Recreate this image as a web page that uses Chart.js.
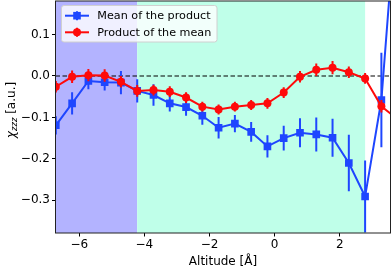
<!DOCTYPE html>
<html>
<head>
<meta charset="utf-8">
<script src="https://cdn.jsdelivr.net/npm/chart.js@4"></script>
<style>
html,body{margin:0;padding:0;background:#fff;}
canvas{display:block;}
</style>
</head>
<body>
<canvas id="c" width="392" height="269"></canvas>
<script>
// ---- data ----
const altitude = [-6.72, -6.22, -5.72, -5.22, -4.72, -4.22, -3.72, -3.22, -2.72, -2.22, -1.72,
                  -1.22, -0.72, -0.22, 0.28, 0.78, 1.28, 1.78, 2.28, 2.78, 3.28, 3.78];
const meanOfProduct = [-0.119, -0.066, -0.012, -0.015, -0.016, -0.036, -0.046, -0.066, -0.075, -0.096, -0.125,
                       -0.115, -0.135, -0.170, -0.150, -0.137, -0.141, -0.149, -0.210, -0.291, -0.058, 0.45];
const meanOfProductErr = [0.022, 0.027, 0.020, 0.020, 0.028, 0.028, 0.026, 0.020, 0.021, 0.022, 0.026,
                          0.021, 0.024, 0.027, 0.030, 0.035, 0.041, 0.046, 0.068, 0.087, 0.114, 0.15];
const productOfMean = [-0.026, -0.002, 0.002, 0.001, -0.014, -0.036, -0.034, -0.038, -0.052, -0.074, -0.081,
                       -0.074, -0.070, -0.066, -0.040, -0.002, 0.015, 0.020, 0.009, -0.006, -0.073, -0.105];
const productOfMeanErr = [0.014, 0.015, 0.015, 0.015, 0.014, 0.014, 0.013, 0.013, 0.013, 0.012, 0.012,
                          0.012, 0.012, 0.013, 0.013, 0.014, 0.015, 0.016, 0.014, 0.013, 0.015, 0.015];
const seriesNames = ['Mean of the product', 'Product of the mean'];
const xTicks = [-6, -4, -2, 0, 2];
const yTicks = [-0.3, -0.2, -0.1, 0.0, 0.1];
const xRange = [-6.73, 3.56];
const yRange = [-0.379, 0.181];
const blueRegion = [-6.73, -4.22];
const cyanRegion = [-4.22, 2.78];
const xLabel = 'Altitude [Å]';

const BLUE = '#1e46ff';
const RED = '#ff0a0a';
const FONT = '"DejaVu Sans", sans-serif';
const errs = [meanOfProductErr, productOfMeanErr];
const vals = [meanOfProduct, productOfMean];

function minus(s){ return s.replace('-', '\u2212'); }
function noPad(s){ s.paddingTop = 0; s.paddingBottom = 0; s.paddingLeft = 0; s.paddingRight = 0; }

const deco = {
  id: 'deco',
  beforeDatasetsDraw(chart){
    const {ctx, chartArea: a, scales: {x, y}} = chart;
    ctx.save();
    ctx.beginPath(); ctx.rect(a.left, a.top, a.right - a.left, a.bottom - a.top); ctx.clip();
    ctx.fillStyle = 'rgb(179,179,255)';
    let x0 = x.getPixelForValue(blueRegion[0]), x1 = x.getPixelForValue(blueRegion[1]);
    ctx.fillRect(Math.min(x0, a.left), a.top, x1 - Math.min(x0, a.left), a.bottom - a.top);
    ctx.fillStyle = 'rgb(191,255,233)';
    x0 = x.getPixelForValue(cyanRegion[0]); x1 = x.getPixelForValue(cyanRegion[1]);
    ctx.fillRect(x0, a.top, x1 - x0, a.bottom - a.top);
    // zero line
    const y0 = y.getPixelForValue(0);
    ctx.strokeStyle = '#000'; ctx.lineWidth = 1.2; ctx.setLineDash([4.5, 2.5]);
    ctx.beginPath(); ctx.moveTo(a.left, y0); ctx.lineTo(a.right, y0); ctx.stroke();
    ctx.restore();
  },
  beforeDatasetDraw(chart, args){
    const {ctx, chartArea: a, scales: {x, y}} = chart;
    const i = args.index;
    const ds = chart.data.datasets[i];
    ctx.save();
    ctx.beginPath(); ctx.rect(a.left, a.top, a.right - a.left, a.bottom - a.top); ctx.clip();
    ctx.strokeStyle = ds.borderColor; ctx.lineWidth = 2;
    altitude.forEach((xv, k) => {
      const px = x.getPixelForValue(xv);
      const v = vals[i][k], e = errs[i][k];
      ctx.beginPath();
      ctx.moveTo(px, y.getPixelForValue(v - e));
      ctx.lineTo(px, y.getPixelForValue(v + e));
      ctx.stroke();
    });
    ctx.restore();
  },
  afterDraw(chart){
    const {ctx, chartArea: a} = chart;
    ctx.save();
    // frame
    ctx.strokeStyle = '#222'; ctx.lineWidth = 1;
    ctx.strokeRect(a.left, a.top, a.right - a.left, a.bottom - a.top);
    // legend
    const lx = 61, ly = 5, lw = 155.5, lh = 36.5;
    ctx.beginPath();
    ctx.roundRect(lx + 0.5, ly + 0.5, lw, lh, 2.5);
    ctx.fillStyle = 'rgba(255,255,255,0.8)'; ctx.fill();
    ctx.strokeStyle = '#d0d0d0'; ctx.lineWidth = 1; ctx.stroke();
    const rows = [15.7, 32.3];
    [BLUE, RED].forEach((col, r) => {
      const ry = rows[r];
      ctx.strokeStyle = col; ctx.fillStyle = col; ctx.lineWidth = 2;
      ctx.beginPath(); ctx.moveTo(65, ry); ctx.lineTo(89, ry); ctx.stroke();
      ctx.beginPath(); ctx.moveTo(77, ry - 4.5); ctx.lineTo(77, ry + 4.5); ctx.stroke();
      if (r === 0) { ctx.fillRect(77 - 3.8, ry - 3.8, 7.6, 7.6); }
      else { ctx.beginPath(); ctx.arc(77, ry, 4, 0, Math.PI * 2); ctx.fill(); }
      ctx.fillStyle = '#000'; ctx.font = '11.2px ' + FONT;
      ctx.textBaseline = 'middle'; ctx.textAlign = 'left';
      ctx.fillText(seriesNames[r], 97.3, ry + 0.5);
    });
    // x label
    ctx.fillStyle = '#000'; ctx.font = '12px ' + FONT;
    ctx.textAlign = 'center'; ctx.textBaseline = 'middle';
    ctx.fillText(xLabel, (a.left + a.right) / 2, 261.5);
    // y label with subscript
    const parts = [
      {t: 'χ', f: 'italic 12px ' + FONT, dy: 0},
      {t: 'zzz', f: 'italic 8.5px ' + FONT, dy: 3},
      {t: ' [a.u.]', f: '12px ' + FONT, dy: 0}
    ];
    let total = 0;
    parts.forEach(p => { ctx.font = p.f; p.w = ctx.measureText(p.t).width; total += p.w; });
    ctx.translate(11.5, 110);
    ctx.rotate(-Math.PI / 2);
    ctx.textAlign = 'left'; ctx.textBaseline = 'middle';
    let cx = -total / 2;
    parts.forEach(p => { ctx.font = p.f; ctx.fillText(p.t, cx, p.dy); cx += p.w; });
    ctx.restore();
  }
};

new Chart(document.getElementById('c'), {
  type: 'line',
  data: {
    labels: altitude,
    datasets: [
      {
        label: seriesNames[0],
        data: altitude.map((xv, k) => ({x: xv, y: meanOfProduct[k]})),
        borderColor: BLUE, backgroundColor: BLUE,
        borderWidth: 2, pointStyle: 'rect', pointRadius: 5.4,
        pointBorderWidth: 0, pointBackgroundColor: BLUE,
        tension: 0, clip: 0, order: 1
      },
      {
        label: seriesNames[1],
        data: altitude.map((xv, k) => ({x: xv, y: productOfMean[k]})),
        borderColor: RED, backgroundColor: RED,
        borderWidth: 2, pointStyle: 'circle', pointRadius: 4,
        pointBorderWidth: 0, pointBackgroundColor: RED,
        tension: 0, clip: 0, order: 0
      }
    ]
  },
  options: {
    responsive: false,
    animation: false,
    devicePixelRatio: 1,
    layout: {autoPadding: false, padding: {left: 0, top: 1, right: 1.5, bottom: 0}},
    plugins: {legend: {display: false}, tooltip: {enabled: false}},
    scales: {
      x: {
        type: 'linear', min: xRange[0], max: xRange[1],
        afterBuildTicks: s => { s.ticks = xTicks.map(v => ({value: v})); },
        afterFit: s => { s.height = 36; noPad(s); },
        grid: {drawOnChartArea: false, drawTicks: true, tickLength: 3.5, tickColor: '#000', tickWidth: 1},
        border: {display: false},
        ticks: {
          color: '#000', font: {family: FONT, size: 12}, padding: 1, maxRotation: 0,
          callback: v => minus(String(v))
        }
      },
      y: {
        type: 'linear', min: yRange[0], max: yRange[1],
        afterBuildTicks: s => { s.ticks = yTicks.map(v => ({value: v})); },
        afterFit: s => { s.width = 55.5; noPad(s); },
        grid: {drawOnChartArea: false, drawTicks: true, tickLength: 3.5, tickColor: '#000', tickWidth: 1},
        border: {display: false},
        ticks: {
          color: '#000', font: {family: FONT, size: 12}, padding: 2,
          callback: v => minus(Math.abs(v) < 1e-9 ? '0.0' : v.toFixed(1))
        }
      }
    }
  },
  plugins: [deco]
});
</script>
</body>
</html>
